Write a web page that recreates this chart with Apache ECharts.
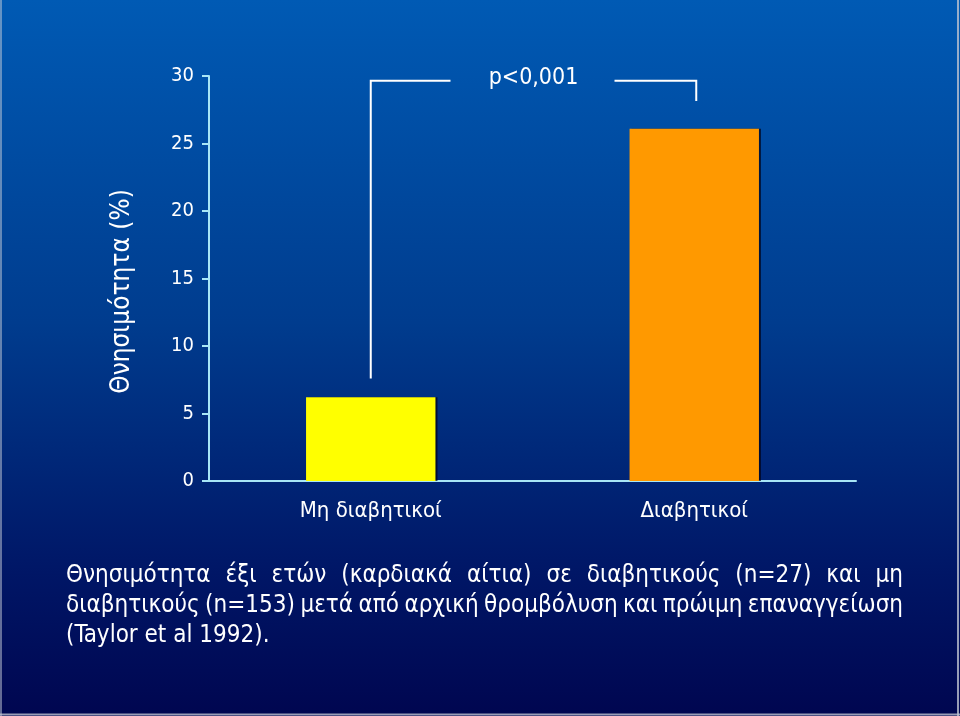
<!DOCTYPE html>
<html>
<head>
<meta charset="utf-8">
<script src="https://cdn.jsdelivr.net/npm/echarts@6/dist/echarts.min.js"></script>
<style>
html,body{margin:0;padding:0;background:#00207a;}
#chart{width:960px;height:716px;}
</style>
</head>
<body>
<div id="chart"></div>
<script>
// ---- data ----
const categories = ['Μη διαβητικοί', 'Διαβητικοί'];
const mortality = [6.2, 26.1];
const barColors = ['#FFFF00', '#FF9900'];
const yAxisName = 'Θνησιμότητα (%)';
const yMin = 0, yMax = 30, yInterval = 5;
const pValueLabel = 'p<0,001';
const bracketTop = 29.65;
const bracketEnds = [7.6, 28.15];
const captionLines = [
  'Θνησιμότητα έξι ετών (καρδιακά αίτια) σε διαβητικούς (n=27) και μη',
  'διαβητικούς (n=153) μετά από αρχική θρομβόλυση και πρώιμη επαναγγείωση',
  '(Taylor et al 1992).'
];

// ---- styles ----
const FONT = '"DejaVu Sans Condensed", "DejaVu Sans"';
const axisColor = '#a8e6f6';
const shadow = {textShadowColor: 'rgba(0,0,0,0.85)', textShadowOffsetX: 1.5, textShadowOffsetY: 1.5, textShadowBlur: 0};

const chart = echarts.init(document.getElementById('chart'), null, {renderer: 'canvas'});

function buildCaption() {
  const ctx = document.createElement('canvas').getContext('2d');
  const size = 24;
  const font = size + 'px ' + FONT;
  ctx.font = font;
  const left = 66, right = 903, top = 576, lh = 30;
  const els = [];
  captionLines.forEach(function (line, i) {
    const words = line.split(' ');
    const y = top + i * lh;
    const justify = i < captionLines.length - 1;
    const widths = words.map(function (w) { return ctx.measureText(w).width; });
    const total = widths.reduce(function (a, b) { return a + b; }, 0);
    const gap = justify ? (right - left - total) / (words.length - 1) : ctx.measureText(' ').width;
    let x = left;
    words.forEach(function (w, k) {
      els.push({
        type: 'text', x: x, y: y, silent: true,
        style: Object.assign({text: w, fill: '#ffffff', font: font, verticalAlign: 'middle', align: 'left'}, shadow)
      });
      x += widths[k] + gap;
    });
  });
  const frame = {stroke: 'rgba(190,195,208,0.8)', lineWidth: 2};
  els.push({type: 'line', silent: true, shape: {x1: 1, y1: 0, x2: 1, y2: 716}, style: {stroke: 'rgba(200,205,215,0.5)', lineWidth: 2}});
  els.push({type: 'line', silent: true, shape: {x1: 958, y1: 0, x2: 958, y2: 716}, style: frame});
  els.push({type: 'line', silent: true, shape: {x1: 0, y1: 714.5, x2: 960, y2: 714.5}, style: frame});
  return els;
}

const option = {
  backgroundColor: {
    type: 'linear', x: 0, y: 0, x2: 0, y2: 1,
    colorStops: [
      {offset: 0, color: '#005ab4'},
      {offset: 0.45, color: '#003c8e'},
      {offset: 0.8, color: '#001666'},
      {offset: 1, color: '#000650'}
    ]
  },
  animation: false,
  textStyle: {fontFamily: FONT},
  grid: {left: 209, right: 104, top: 76, bottom: 235, containLabel: false},
  xAxis: {
    type: 'category',
    data: categories,
    axisLine: {show: true, lineStyle: {color: axisColor, width: 2}},
    axisTick: {show: false},
    axisLabel: {color: '#ffffff', fontSize: 22, fontFamily: FONT, margin: 19}
  },
  yAxis: {
    type: 'value',
    min: yMin, max: yMax, interval: yInterval,
    name: yAxisName,
    nameLocation: 'middle',
    nameRotate: 90,
    nameGap: 74,
    nameTextStyle: {color: '#ffffff', fontSize: 26, fontFamily: FONT, padding: [0, 26, 0, 0]},
    axisLine: {show: true, lineStyle: {color: axisColor, width: 2}},
    axisTick: {show: true, inside: false, length: 7, lineStyle: {color: axisColor, width: 2}},
    axisLabel: Object.assign({color: '#ffffff', fontSize: 20, fontFamily: FONT, margin: 15}, shadow),
    splitLine: {show: false}
  },
  series: [
    {
      type: 'bar',
      data: mortality.map(function (v, i) { return {value: v, itemStyle: {color: barColors[i]}}; }),
      barWidth: '40%',
      itemStyle: {shadowColor: 'rgba(0,0,20,0.7)', shadowOffsetX: 2, shadowOffsetY: 0, shadowBlur: 0}
    },
    {
      type: 'custom',
      silent: true,
      data: [[0, bracketTop]],
      renderItem: function (params, api) {
        const pL = api.coord([0, bracketTop]);
        const pR = api.coord([1, bracketTop]);
        const pLb = api.coord([0, bracketEnds[0]]);
        const pRb = api.coord([1, bracketEnds[1]]);
        const mid = (pL[0] + pR[0]) / 2;
        const half = 82;
        const ls = {stroke: '#ffffff', lineWidth: 2, fill: null};
        return {
          type: 'group',
          children: [
            {type: 'polyline', shape: {points: [[pLb[0], pLb[1]], [pL[0], pL[1]], [mid - half, pL[1]]]}, style: ls},
            {type: 'polyline', shape: {points: [[mid + half, pR[1]], [pR[0] + 2, pR[1]], [pR[0] + 2, pRb[1]]]}, style: ls},
            {type: 'text', x: mid + 1, y: pL[1] - 3,
              style: Object.assign({text: pValueLabel, fill: '#ffffff', font: '23px ' + FONT, align: 'center', verticalAlign: 'middle'}, shadow)}
          ]
        };
      }
    }
  ],
  graphic: buildCaption()
};

chart.setOption(option);
</script>
</body>
</html>
